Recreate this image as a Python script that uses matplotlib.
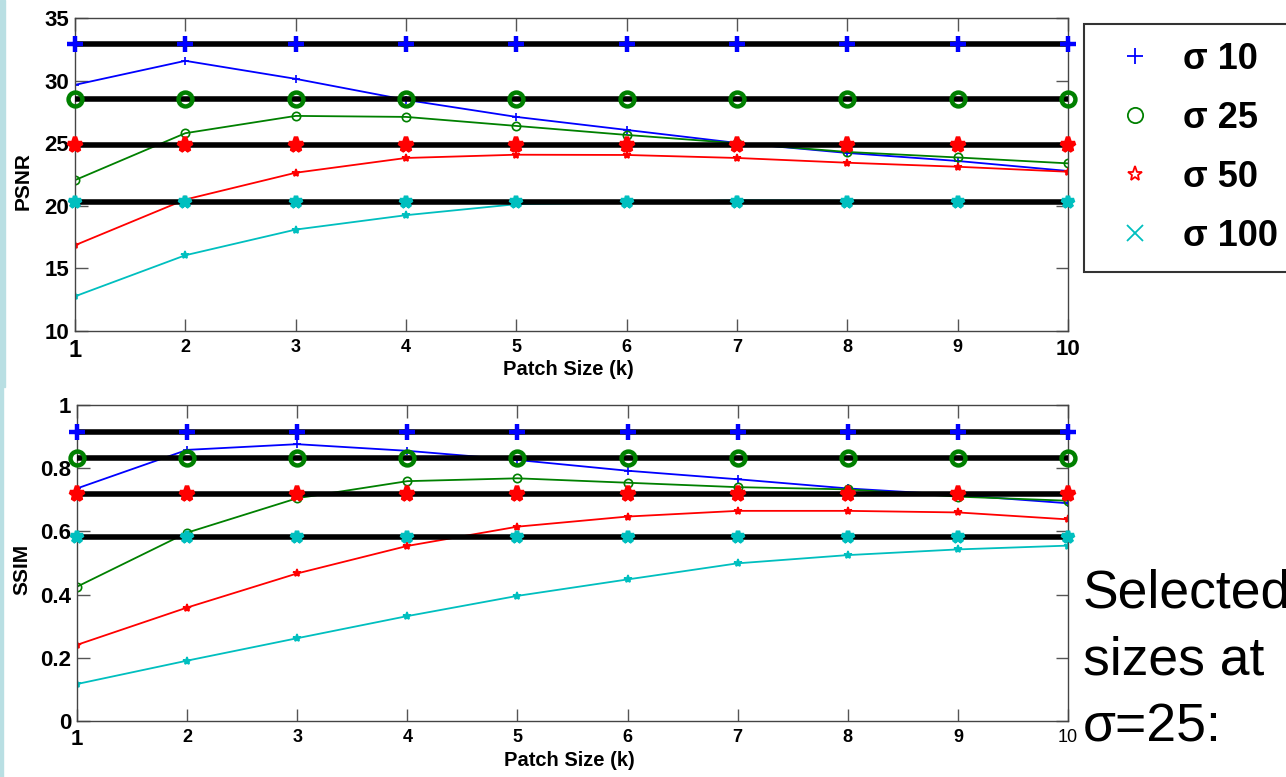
import matplotlib
matplotlib.use('Agg')
import matplotlib.pyplot as plt
from matplotlib.lines import Line2D
from matplotlib.patches import Rectangle

plt.rcParams['font.family'] = ['Liberation Sans', 'DejaVu Sans']

k = [1, 2, 3, 4, 5, 6, 7, 8, 9, 10]
etiquetas = ['σ 10', 'σ 25', 'σ 50', 'σ 100']
colores = ['#0000ff', '#008000', '#ff0000', '#00bfbf']
marcas = ['+', 'o', '*', '*']
marcas_ley = ['+', 'o', '*', 'x']
relleno = ['none', 'none', 'full', 'full']

# psnr por sigma
psnr_ref = [32.9, 28.54, 24.86, 20.27]
psnr = [
    [29.66, 31.58, 30.14, 28.46, 27.1, 26.06, 25.02, 24.22, 23.58, 22.78],
    [22.05, 25.8, 27.18, 27.1, 26.38, 25.66, 25.0, 24.3, 23.86, 23.39],
    [16.85, 20.5, 22.64, 23.82, 24.08, 24.06, 23.82, 23.44, 23.12, 22.72],
    [12.77, 16.05, 18.1, 19.25, 20.13, 20.25, 20.45, 20.41, 20.29, 20.29],
]

# ssim por sigma
ssim_ref = [0.915, 0.833, 0.718, 0.583]
ssim = [
    [0.736, 0.858, 0.876, 0.855, 0.826, 0.792, 0.765, 0.736, 0.715, 0.689],
    [0.425, 0.596, 0.705, 0.759, 0.768, 0.754, 0.74, 0.733, 0.71, 0.697],
    [0.241, 0.359, 0.467, 0.554, 0.615, 0.647, 0.665, 0.665, 0.66, 0.638],
    [0.117, 0.191, 0.262, 0.332, 0.396, 0.448, 0.499, 0.525, 0.543, 0.555],
]

fig = plt.figure(figsize=(12.86, 7.77), dpi=100)

# franja celeste a la izquierda (diapositiva)
fig.patches.append(Rectangle((0, 1 - 387/777), 5/1286, 387/777, transform=fig.transFigure,
                             color='#b9dfe3', zorder=0))
fig.patches.append(Rectangle((0, 0), 3/1286, 1 - 388/777, transform=fig.transFigure,
                             color='#b9dfe3', zorder=0))

ax1 = fig.add_axes([75/1286, 1 - 331/777, 993/1286, 313/777])
ax2 = fig.add_axes([77/1286, 1 - 721/777, 991/1286, 316/777])


def cara(i):
    return colores[i] if relleno[i] == 'full' else 'none'


def dibujar(ax, datos, ref, ylabel, yticks, ylabels, ylim):
    for i in range(4):
        ax.plot(k, datos[i], color=colores[i], marker=marcas[i], markersize=6,
                markeredgewidth=1.2, markerfacecolor=cara(i), linewidth=1.3, zorder=2)
    tam = [12, 10, 11, 9]
    for i in range(4):
        ax.plot(k, [ref[i]] * len(k), color='black', linewidth=4, zorder=3)
        ax.plot(k, [ref[i]] * len(k), linestyle='none', color=colores[i], marker=marcas[i],
                markersize=tam[i], markeredgewidth=3.2, markerfacecolor=cara(i), zorder=4,
                clip_on=False)
    ax.set_xlim(1, 10)
    ax.set_ylim(ylim)
    ax.set_xticks(k)
    ax.set_yticks(yticks)
    ax.set_yticklabels(ylabels, fontsize=16, fontweight='bold')
    ax.tick_params(direction='in', length=9, width=1, color='#555555',
                   top=True, right=True)
    ax.tick_params(axis='y', pad=4)
    ax.tick_params(axis='x', pad=6)
    for s in ax.spines.values():
        s.set_color('#444444')
        s.set_linewidth(1)
    ax.set_ylabel(ylabel, fontsize=15, fontweight='bold')
    ax.set_xlabel('Patch Size (k)', fontsize=14.5, fontweight='bold')


dibujar(ax1, psnr, psnr_ref, 'PSNR', [10, 15, 20, 25, 30, 35],
        ['10', '15', '20', '25', '30', '35'], (10, 35))
dibujar(ax2, ssim, ssim_ref, 'SSIM', [0, 0.2, 0.4, 0.6, 0.8, 1],
        ['0', '0.2', '0.4', '0.6', '0.8', '1'], (0, 1))

# etiquetas del eje x (la primera y la ultima del grafico de arriba son mas grandes)
ax1.set_xticklabels([str(v) for v in k], fontsize=13, fontweight='bold')
lbl = ax1.get_xticklabels()
lbl[0].set_fontsize(17)
lbl[-1].set_fontsize(16)
ax2.set_xticklabels([str(v) for v in k], fontsize=13, fontweight='bold')
lbl = ax2.get_xticklabels()
lbl[0].set_fontsize(16)
lbl[-1].set_fontweight('normal')

ax1.yaxis.set_label_coords(-0.043, 0.48)
ax2.yaxis.set_label_coords(-0.046, 0.48)
ax1.xaxis.set_label_coords(0.497, -0.092)
ax2.xaxis.set_label_coords(0.497, -0.095)

# leyenda solo con marcadores
handles = [Line2D([], [], linestyle='none', color=colores[i], marker=marcas_ley[i],
                  markersize=11, markeredgewidth=1.3, markerfacecolor='none')
           for i in range(4)]
leg = fig.legend(handles, etiquetas, loc='upper left',
                 bbox_to_anchor=(1084/1286, 1 - 24/777), borderaxespad=0,
                 prop={'size': 26, 'weight': 'bold'}, frameon=True, fancybox=False,
                 labelspacing=0.66, handlelength=1.8, handletextpad=0.45,
                 borderpad=0.5)
leg.get_frame().set_edgecolor('black')
leg.get_frame().set_linewidth(1.5)

fig.text(1083/1286, 1 - 569/777, 'Selected\nsizes at\nσ=25:', fontsize=38.5,
         va='top', ha='left', linespacing=1.43)

plt.savefig('out.png', dpi=100)
